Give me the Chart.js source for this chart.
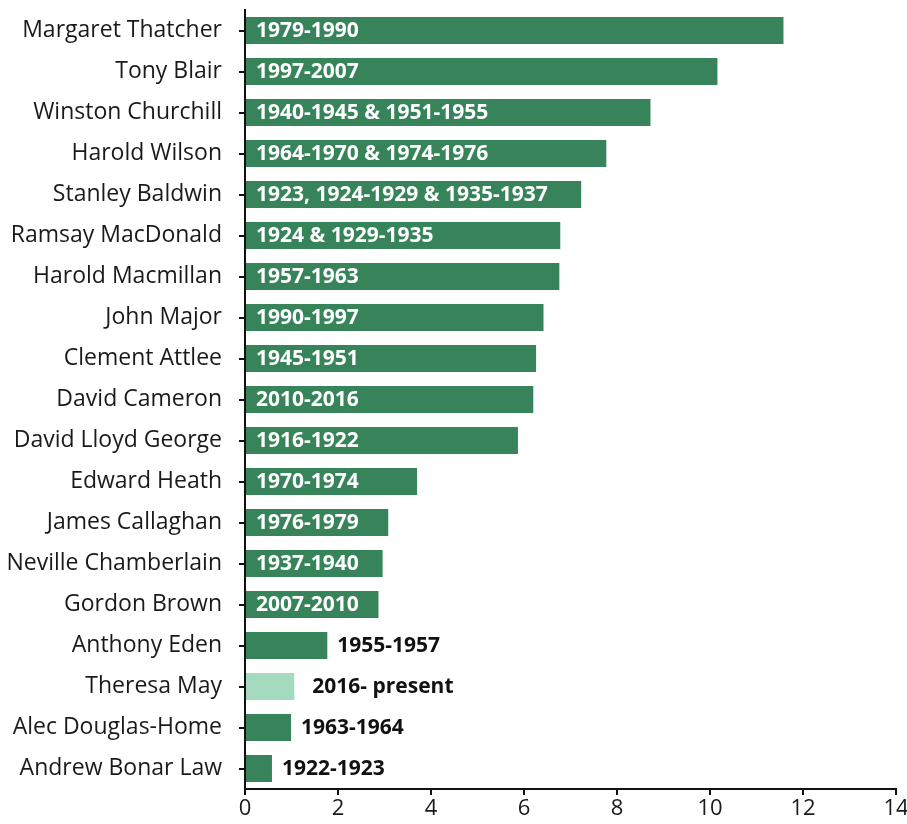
<!DOCTYPE html>
<html>
<head>
<meta charset="utf-8">
<script src="https://cdn.jsdelivr.net/npm/chart.js@4"></script>
<style>
  html, body { margin: 0; padding: 0; background: #fff; }
  #wrap { width: 907px; height: 824px; }
</style>
</head>
<body>
<div id="wrap"><canvas id="chart"></canvas></div>
<script>
const primeMinisters = [
  'Margaret Thatcher', 'Tony Blair', 'Winston Churchill', 'Harold Wilson',
  'Stanley Baldwin', 'Ramsay MacDonald', 'Harold Macmillan', 'John Major',
  'Clement Attlee', 'David Cameron', 'David Lloyd George', 'Edward Heath',
  'James Callaghan', 'Neville Chamberlain', 'Gordon Brown', 'Anthony Eden',
  'Theresa May', 'Alec Douglas-Home', 'Andrew Bonar Law'
];
const yearsInOffice = [
  11.58, 10.16, 8.72, 7.77, 7.23, 6.78, 6.76, 6.42, 6.26, 6.2, 5.87,
  3.7, 3.08, 2.96, 2.87, 1.77, 1.06, 0.99, 0.58
];
const termLabels = [
  '1979-1990', '1997-2007', '1940-1945 & 1951-1955', '1964-1970 & 1974-1976',
  '1923, 1924-1929 & 1935-1937', '1924 & 1929-1935', '1957-1963', '1990-1997',
  '1945-1951', '2010-2016', '1916-1922', '1970-1974', '1976-1979', '1937-1940',
  '2007-2010', '1955-1957', '2016- present', '1963-1964', '1922-1923'
];
const xTicks = [0, 2, 4, 6, 8, 10, 12, 14];

const darkGreen = '#37845b';
const lightGreen = '#a4dbbf';
const barColors = primeMinisters.map((n) => n === 'Theresa May' ? lightGreen : darkGreen);

// labels: white inside the long bars, black after the short ones
const termLabelPlugin = {
  id: 'termLabels',
  afterDatasetsDraw(chart) {
    const ctx = chart.ctx;
    const meta = chart.getDatasetMeta(0);
    ctx.save();
    ctx.font = 'bold 21px "Open Sans"';
    ctx.textBaseline = 'middle';
    ctx.textAlign = 'left';
    meta.data.forEach((bar, i) => {
      const inside = yearsInOffice[i] > 2;
      if (inside) {
        ctx.fillStyle = '#ffffff';
        ctx.fillText(termLabels[i], bar.base + 10, bar.y + 1);
      } else {
        const gap = termLabels[i].includes('present') ? 18 : 10;
        ctx.fillStyle = '#111111';
        ctx.fillText(termLabels[i], bar.x + gap, bar.y + 1);
      }
    });
    ctx.restore();
  }
};

new Chart(document.getElementById('chart'), {
  type: 'bar',
  data: {
    labels: primeMinisters,
    datasets: [{
      data: yearsInOffice,
      backgroundColor: barColors,
      barPercentage: 0.66,
      categoryPercentage: 1
    }]
  },
  options: {
    indexAxis: 'y',
    responsive: true,
    maintainAspectRatio: false,
    animation: false,
    layout: { padding: { top: 10, right: 11, left: 0, bottom: 0 } },
    plugins: { legend: { display: false }, tooltip: { enabled: false } },
    scales: {
      x: {
        min: 0,
        max: 14,
        afterBuildTicks: (scale) => { scale.ticks = xTicks.map((v) => ({ value: v })); },
        afterFit: (scale) => { scale.height = 35; scale.paddingLeft = 0; scale.paddingRight = 0; },
        border: { color: '#111', width: 2 },
        grid: { drawOnChartArea: false, drawTicks: true, tickLength: 6, color: '#111', lineWidth: 2 },
        ticks: { color: '#1a1a1a', font: { family: 'Open Sans', size: 22 }, padding: 1 }
      },
      y: {
        afterFit: (scale) => { scale.width = 245; scale.paddingTop = 0; scale.paddingBottom = 0; },
        border: { color: '#111', width: 2 },
        grid: { offset: false, drawOnChartArea: false, drawTicks: true, tickLength: 6, color: '#111', lineWidth: 2 },
        ticks: { color: '#1a1a1a', font: { family: 'Open Sans', size: 23 }, padding: 17 }
      }
    }
  },
  plugins: [termLabelPlugin]
});
</script>
</body>
</html>
